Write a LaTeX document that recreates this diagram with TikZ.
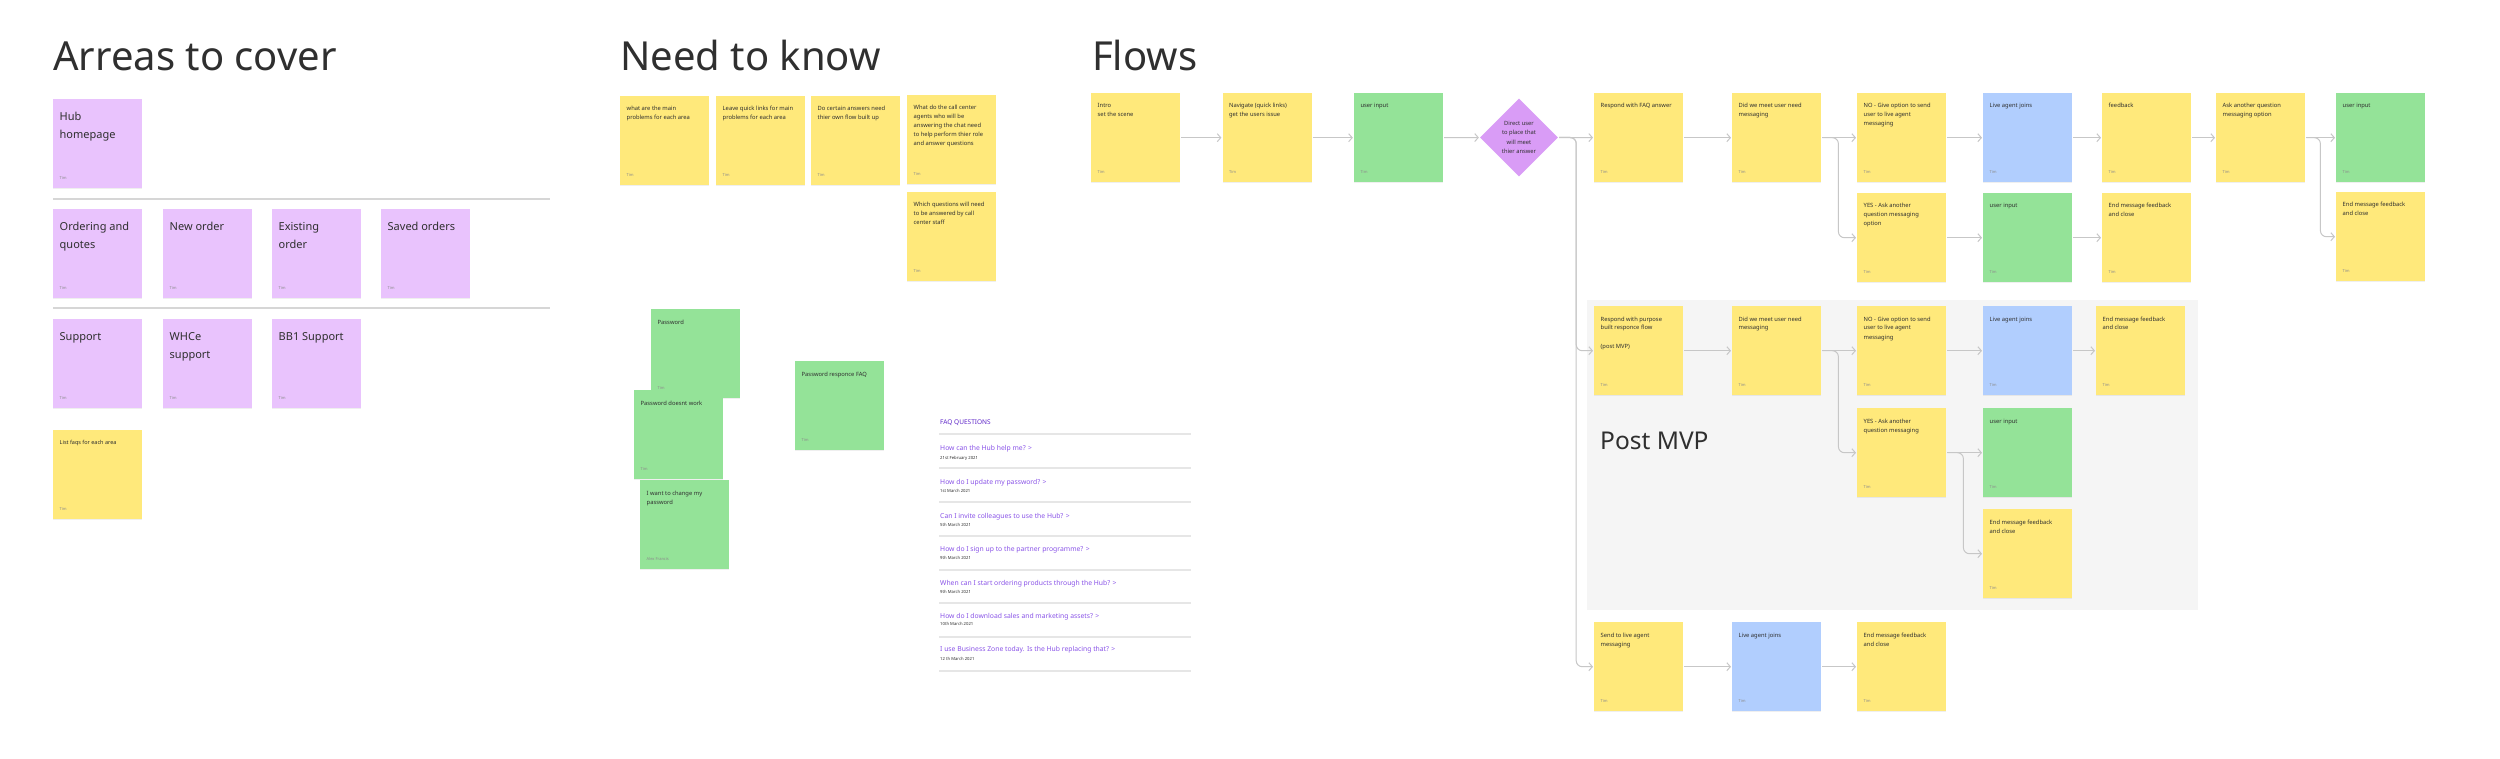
\documentclass[tikz,border=0pt]{standalone}
\usepackage{fontspec}
\setmainfont{Noto Sans}
\usetikzlibrary{arrows.meta,positioning,shapes.geometric,shadows}
\definecolor{stickyyel}{HTML}{FFE97B}
\definecolor{stickypur}{HTML}{E9C3FD}
\definecolor{stickygrn}{HTML}{94E398}
\definecolor{stickyblu}{HTML}{B1CEFE}
\definecolor{decidepur}{HTML}{D99CF6}
\definecolor{panelgrey}{HTML}{F5F5F5}
\definecolor{linkgrey}{HTML}{C7C7C7}
\definecolor{rulegrey}{HTML}{D6D6D6}
\definecolor{ink}{HTML}{2F2F2F}
\definecolor{footgrey}{HTML}{8C8C8C}
\definecolor{faqhead}{HTML}{5E25C9}
\definecolor{faqlink}{HTML}{8A54E8}
\newcommand{\notebody}[2][Tim]{\parbox[t][72pt][t]{76pt}{\raggedright\strut #2\par\vfill{\fontsize{4}{4}\selectfont\color{footgrey}#1}}}

\begin{document}
\begin{tikzpicture}[
    x=1pt, y=-1pt,
    note/.style={fill=#1,anchor=north west,inner xsep=6.5pt,inner ysep=8.5pt,minimum width=89pt,minimum height=89pt,font=\fontsize{5.8}{9}\selectfont,text=ink,drop shadow={shadow xshift=0pt,shadow yshift=-1.2pt,opacity=.12}},
    area/.style={note=stickypur,font=\fontsize{11}{18}\selectfont},
    decide/.style={diamond,aspect=1,minimum size=78pt,inner sep=0pt,fill=decidepur,align=center,font=\fontsize{5.8}{9.3}\selectfont,text=ink},
    heading/.style={anchor=base west,inner sep=0pt,font=\fontsize{40}{48}\selectfont,text=ink},
    link/.style={draw=linkgrey,line width=1pt,-{Straight Barb[length=3.5pt,width=8pt]},shorten >=1pt,shorten <=1pt,rounded corners=6pt},
    faqq/.style={anchor=base west,inner sep=0pt,font=\fontsize{6.8}{8}\selectfont,text=faqlink},
    faqd/.style={anchor=base west,inner sep=0pt,font=\fontsize{4.2}{5}\selectfont,text=ink},
    faqrule/.style={draw=rulegrey!60,line width=1.2pt}
]
\fill[white] (0,0) rectangle (2500,759);
\useasboundingbox (0,0) rectangle (2500,759);

% titles
\node[heading] (tcover) at (53,71) {Arreas to cover};
\node[heading] (tknow) at (620,71) {Need to know};
\node[heading] (tflows) at (1092,71) {Flows};

% areas to cover
\node[area] (hub) at (53,99) {\notebody{Hub\\homepage}};
\draw[rulegrey,line width=1.5pt] (53,199) -- (550,199);
\node[area] (order) at (53,209) {\notebody{Ordering and\\quotes}};
\node[area] (neworder) at (163,209) {\notebody{New order}};
\node[area] (existing) at (272,209) {\notebody{Existing\\order}};
\node[area] (saved) at (381,209) {\notebody{Saved orders}};
\draw[rulegrey,line width=1.5pt] (53,308) -- (550,308);
\node[area] (support) at (53,319) {\notebody{Support}};
\node[area] (whce) at (163,319) {\notebody{WHCe\\support}};
\node[area] (bb1) at (272,319) {\notebody{BB1 Support}};
\node[note=stickyyel,font=\fontsize{5.5}{8}\selectfont] (listfaq) at (53,430) {\notebody{List faqs for each area}};

% need to know
\node[note=stickyyel] (know1) at (620,96) {\notebody{what are the main\\problems for each area}};
\node[note=stickyyel] (know2) at (716,96) {\notebody{Leave quick links for main\\problems for each area}};
\node[note=stickyyel] (know3) at (811,96) {\notebody{Do certain answers need\\thier own flow built up}};
\node[note=stickyyel] (know4) at (907,95) {\notebody{What do the call center\\agents who will be\\answering the chat need\\to help perform thier role\\and answer questions}};
\node[note=stickyyel] (know5) at (907,192) {\notebody{Which questions will need\\to be answered by call\\center staff}};

\node[note=stickygrn] (pw) at (651,309) {\notebody{Password}};
\node[note=stickygrn] (pwfail) at (634,390) {\notebody{Password doesnt work}};
\node[note=stickygrn] (pwchange) at (640,480) {\notebody[Alex Francis]{I want to change my\\password}};
\node[note=stickygrn] (pwfaq) at (795,361) {\notebody{Password responce FAQ}};

% faq list
\node[anchor=base west,inner sep=0pt,font=\fontsize{6.5}{8}\selectfont\bfseries,text=faqhead] (faqtitle) at (940,424) {FAQ QUESTIONS};
\draw[faqrule] (939,434) -- (1191,434);
\node[faqq] (q1) at (940,450.5) {How can the Hub help me? >};
\node[faqd] (d1) at (940,459) {21st February 2021};
\draw[faqrule] (939,468) -- (1191,468);
\node[faqq] (q2) at (940,484) {How do I update my password? >};
\node[faqd] (d2) at (940,492) {1st March 2021};
\draw[faqrule] (939,502) -- (1191,502);
\node[faqq] (q3) at (940,518) {Can I invite colleagues to use the Hub? >};
\node[faqd] (d3) at (940,526) {5th March 2021};
\draw[faqrule] (939,536) -- (1191,536);
\node[faqq] (q4) at (940,551) {How do I sign up to the partner programme? >};
\node[faqd] (d4) at (940,559.5) {9th March 2021};
\draw[faqrule] (939,570) -- (1191,570);
\node[faqq] (q5) at (940,585) {When can I start ordering products through the Hub? >};
\node[faqd] (d5) at (940,593) {9th March 2021};
\draw[faqrule] (939,603) -- (1191,603);
\node[faqq] (q6) at (940,618) {How do I download sales and marketing assets? >};
\node[faqd] (d6) at (940,625.5) {10th March 2021};
\draw[faqrule] (939,637) -- (1191,637);
\node[faqq] (q7) at (940,651) {I use Business Zone today. Is the Hub replacing that? >};
\node[faqd] (d7) at (940,660) {12 th March 2021};
\draw[faqrule] (939,671) -- (1191,671);

% flows
\fill[panelgrey] (1587,300) rectangle (2198,610);
\node[anchor=base west,inner sep=0pt,font=\fontsize{24.5}{30}\selectfont,text=ink] (tpost) at (1600,449) {Post MVP};

\node[note=stickyyel] (intro) at (1091,93) {\notebody{Intro\\set the scene}};
\node[note=stickyyel,right=42pt of intro] (nav) {\notebody{Navigate (quick links)\\get the users issue}};
\node[note=stickygrn,right=42pt of nav] (uin1) {\notebody{user input}};
\node[decide] (dia) at (1519,137.5) {Direct user\\to place that\\will meet\\thier answer};
\node[note=stickyyel] (resp) at (1594,93) {\notebody{Respond with FAQ answer}};
\node[note=stickyyel] (meet) at (1732,93) {\notebody{Did we meet user need\\messaging}};
\node[note=stickyyel] (no) at (1857,93) {\notebody{NO - Give option to send\\user to live agent\\messaging}};
\node[note=stickyblu] (live) at (1983,93) {\notebody{Live agent joins}};
\node[note=stickyyel] (feed) at (2102,93) {\notebody{feedback}};
\node[note=stickyyel] (ask) at (2216,93) {\notebody{Ask another question\\messaging option}};
\node[note=stickygrn] (uin3) at (2336,93) {\notebody{user input}};
\node[note=stickyyel] (yes) at (1857,193) {\notebody{YES - Ask another\\question messaging\\option}};
\node[note=stickygrn] (uin2) at (1983,193) {\notebody{user input}};
\node[note=stickyyel] (end1) at (2102,193) {\notebody{End message feedback\\and close}};
\node[note=stickyyel] (end2) at (2336,192) {\notebody{End message feedback\\and close}};

\node[note=stickyyel] (resp2) at (1594,306) {\notebody{Respond with purpose\\built responce flow\\[9pt](post MVP)}};
\node[note=stickyyel] (meet2) at (1732,306) {\notebody{Did we meet user need\\messaging}};
\node[note=stickyyel] (no2) at (1857,306) {\notebody{NO - Give option to send\\user to live agent\\messaging}};
\node[note=stickyblu] (live2) at (1983,306) {\notebody{Live agent joins}};
\node[note=stickyyel] (end3) at (2096,306) {\notebody{End message feedback\\and close}};
\node[note=stickyyel] (yes2) at (1857,408) {\notebody{YES - Ask another\\question messaging}};
\node[note=stickygrn] (uin4) at (1983,408) {\notebody{user input}};
\node[note=stickyyel] (end4) at (1983,509) {\notebody{End message feedback\\and close}};

\node[note=stickyyel] (send) at (1594,622) {\notebody{Send to live agent\\messaging}};
\node[note=stickyblu] (live3) at (1732,622) {\notebody{Live agent joins}};
\node[note=stickyyel] (end5) at (1857,622) {\notebody{End message feedback\\and close}};

% connectors
\draw[link] (intro) -- (nav);
\draw[link] (nav) -- (uin1);
\draw[link] (uin1) -- (dia);
\draw[link] (dia) -- (resp);
\draw[link] (dia.east) -- ++(18,0) |- (resp2.west);
\draw[link] (dia.east) -- ++(18,0) |- (send.west);
\draw[link] (resp) -- (meet);
\draw[link] (meet) -- (no);
\draw[link] (meet.east) -- ++(17,0) |- (yes.west);
\draw[link] (no) -- (live);
\draw[link] (yes) -- (uin2);
\draw[link] (live) -- (feed);
\draw[link] (uin2) -- (end1);
\draw[link] (feed) -- (ask);
\draw[link] (ask) -- (uin3);
\draw[link] (ask.east) -- ++(15,0) |- (end2.west);

\draw[link] (resp2) -- (meet2);
\draw[link] (meet2) -- (no2);
\draw[link] (meet2.east) -- ++(17,0) |- (yes2.west);
\draw[link] (no2) -- (live2);
\draw[link] (live2) -- (end3);
\draw[link] (yes2) -- (uin4);
\draw[link] (yes2.east) -- ++(17,0) |- (end4.west);

\draw[link] (send) -- (live3);
\draw[link] (live3) -- (end5);
\end{tikzpicture}
\end{document}
